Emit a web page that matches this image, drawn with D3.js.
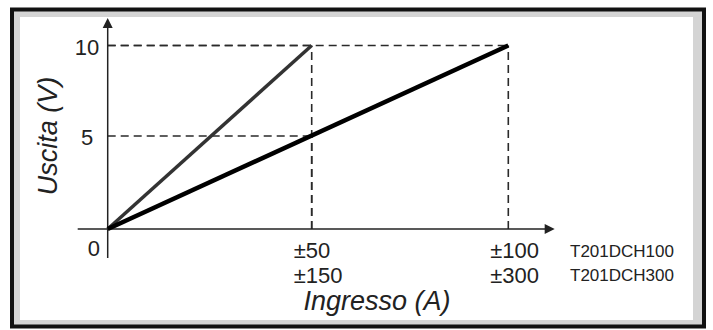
<!DOCTYPE html>
<html>
<head>
<meta charset="utf-8">
<script src="https://d3js.org/d3.v7.min.js"></script>
<style>
  body { margin: 0; background: #fff; }
  text { font-family: "Liberation Sans", Arial, sans-serif; fill: #222; }
</style>
</head>
<body>
<div id="chart"></div>
<script>
// chart values
const yTickValues = [5, 10]
const xTickValues = [50, 100]
const xLabelsTop = ["±50", "±100"]
const xLabelsBottom = ["±150", "±300"]
const modelNames = ["T201DCH100", "T201DCH300"]

// the two output lines (input in units of the top labels, output in V)
const steepX = [0, 50], steepY = [0, 10]
const shallowX = [0, 100], shallowY = [0, 10]

// points where the dashed guides are dropped to the axes
const guideX = [50, 100, 50]
const guideY = [10, 10, 5]

const width = 713, height = 330

const svg = d3.select("#chart").append("svg")
  .attr("width", width)
  .attr("height", height)

// frame: black border, grey band, white panel
svg.append("rect")
  .attr("x", 12).attr("y", 9.5).attr("width", 692).attr("height", 317)
  .attr("fill", "#d4d4d4").attr("stroke", "#111").attr("stroke-width", 4)
svg.append("rect")
  .attr("x", 20).attr("y", 17).attr("width", 673).attr("height", 303)
  .attr("fill", "#fff")

// the original drawing is not quite even, so the scales have a middle stop
const x = d3.scaleLinear().domain([0, 50, 100]).range([107.7, 311.7, 508.3])
const y = d3.scaleLinear().domain([0, 5, 10]).range([229, 136, 45.5])

// dashed guides
const guides = svg.append("g")
  .attr("stroke", "#2a2a2a").attr("stroke-width", 1.6)
  .attr("stroke-dasharray", "8,5").attr("fill", "none")
guideX.forEach((gx, i) => {
  guides.append("line")
    .attr("x1", x(0)).attr("x2", x(gx))
    .attr("y1", y(guideY[i])).attr("y2", y(guideY[i]))
  guides.append("line")
    .attr("x1", x(gx)).attr("x2", x(gx))
    .attr("y1", y(0)).attr("y2", y(guideY[i]))
})

// axes with arrows
svg.append("line")
  .attr("x1", x(0) - 30).attr("x2", x(0) + 438)
  .attr("y1", y(0)).attr("y2", y(0))
  .attr("stroke", "#222").attr("stroke-width", 1.5)
svg.append("path")
  .attr("d", `M${x(0) + 447},${y(0)} l-10,-5 l0,10 z`)
  .attr("fill", "#222")
svg.append("line")
  .attr("x1", x(0)).attr("x2", x(0))
  .attr("y1", y(0) + 29).attr("y2", y(10) - 19)
  .attr("stroke", "#222").attr("stroke-width", 1.5)
svg.append("path")
  .attr("d", `M${x(0)},${y(10) - 27.5} l-5,10 l10,0 z`)
  .attr("fill", "#222")

// data lines
const line = d3.line().x(d => x(d[0])).y(d => y(d[1]))
svg.append("path")
  .datum(steepX.map((v, i) => [v, steepY[i]]))
  .attr("d", line)
  .attr("fill", "none").attr("stroke", "#333").attr("stroke-width", 3.5)
svg.append("path")
  .datum(shallowX.map((v, i) => [v, shallowY[i]]))
  .attr("d", line)
  .attr("fill", "none").attr("stroke", "#000").attr("stroke-width", 4.5)

// y tick labels
svg.selectAll(".ylab")
  .data(yTickValues)
  .join("text")
  .attr("x", 87).attr("y", d => y(d) + 9)
  .attr("text-anchor", "middle")
  .attr("font-size", 22)
  .text(d => d)

svg.append("text")
  .attr("x", 100).attr("y", 256)
  .attr("text-anchor", "end")
  .attr("font-size", 22)
  .text("0")

// x tick labels, two rows
svg.selectAll(".xtop")
  .data(xTickValues)
  .join("text")
  .attr("x", d => x(d) - 18).attr("y", 258)
  .attr("font-size", 22)
  .text((d, i) => xLabelsTop[i])
svg.selectAll(".xbot")
  .data(xTickValues)
  .join("text")
  .attr("x", d => x(d) - 18).attr("y", 283)
  .attr("font-size", 22)
  .text((d, i) => xLabelsBottom[i])

// model names
svg.selectAll(".model")
  .data(modelNames)
  .join("text")
  .attr("x", 570).attr("y", (d, i) => 257 + i * 24)
  .attr("font-size", 17)
  .attr("fill", "#333")
  .text(d => d)

// axis titles
svg.append("text")
  .attr("transform", "translate(57,136) rotate(-90)")
  .attr("text-anchor", "middle")
  .attr("font-size", 27).attr("font-style", "italic")
  .text("Uscita (V)")
svg.append("text")
  .attr("x", 377).attr("y", 310)
  .attr("text-anchor", "middle")
  .attr("font-size", 27).attr("font-style", "italic")
  .text("Ingresso (A)")
</script>
</body>
</html>
